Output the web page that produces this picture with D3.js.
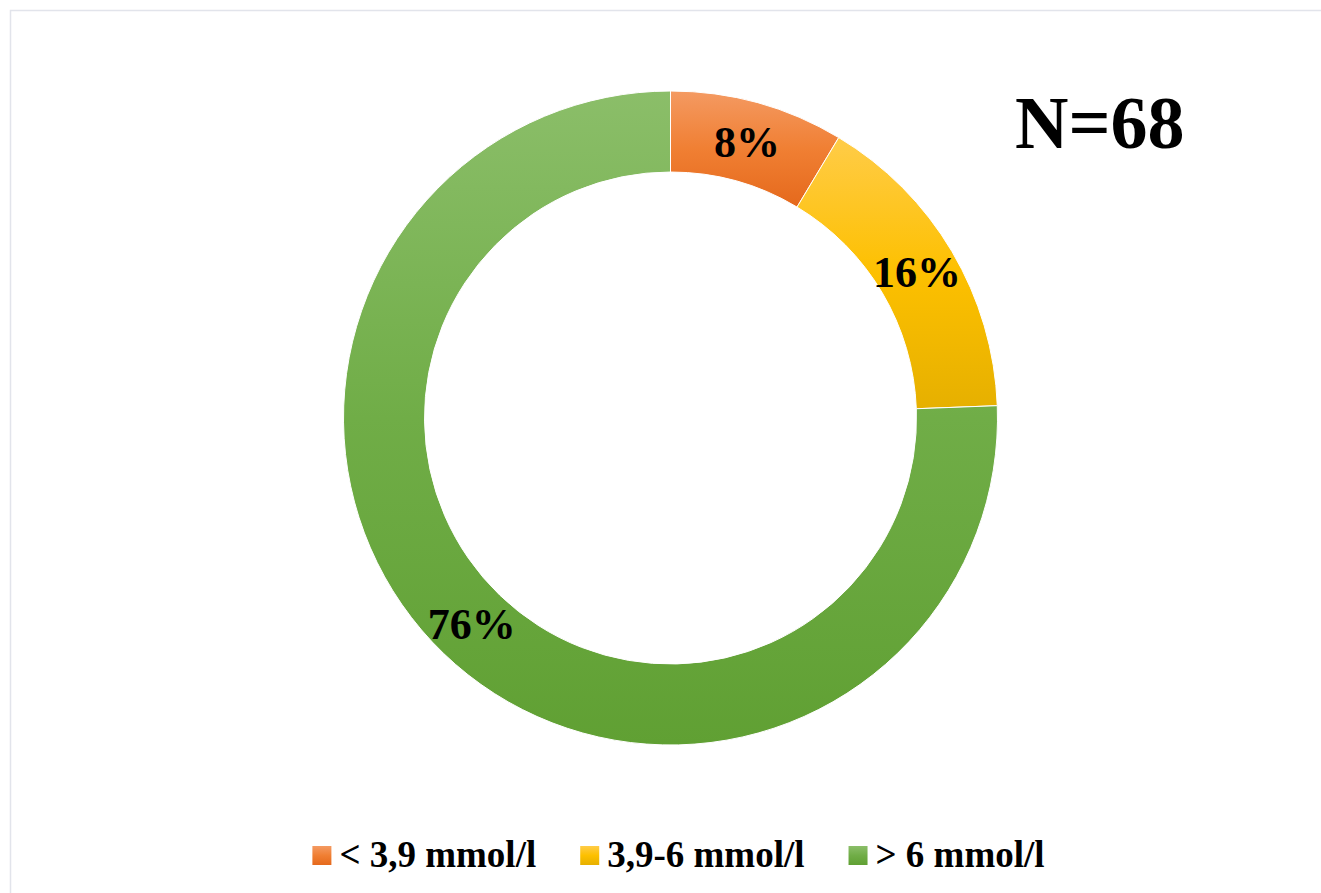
<!DOCTYPE html>
<html>
<head>
<meta charset="utf-8">
<script src="https://cdn.jsdelivr.net/npm/d3@7/dist/d3.min.js"></script>
<style>
  html, body { margin: 0; padding: 0; background: #fff; }
  #plot { width: 1321px; height: 893px; }
  text { font-family: "Liberation Serif", "Times New Roman", serif; font-weight: bold; }
</style>
</head>
<body>
<div id="plot"></div>
<script>
// glucose categories and their shares (%)
const categories = ['< 3,9 mmol/l', '3,9-6 mmol/l', '> 6 mmol/l'];
const shares = [8.6, 15.8, 75.6];
const shareLabels = ['8%', '16%', '76%'];
const sampleLabel = 'N=68';

// top / middle / bottom gradient colours per slice
const gradients = [
  ['#f49a62', '#f07f33', '#e5691c'],
  ['#ffcc48', '#fdc000', '#e6b000'],
  ['#8bbe69', '#70ad47', '#60a033']
];

function drawDonut() {
  const W = 1321, H = 893;
  const svg = d3.select('#plot').append('svg').attr('width', W).attr('height', H);

  // chart frame (light border, top and left visible)
  svg.append('rect')
    .attr('x', 10.5).attr('y', 10.5)
    .attr('width', W).attr('height', H)
    .attr('fill', 'none')
    .attr('stroke', '#e2e4eb')
    .attr('stroke-width', 1.5);

  const defs = svg.append('defs');
  gradients.forEach((c, i) => {
    const lg = defs.append('linearGradient')
      .attr('id', 'grad' + i)
      .attr('x1', 0).attr('y1', 0).attr('x2', 0).attr('y2', 1);
    lg.append('stop').attr('offset', '0%').attr('stop-color', c[0]);
    lg.append('stop').attr('offset', '50%').attr('stop-color', c[1]);
    lg.append('stop').attr('offset', '100%').attr('stop-color', c[2]);
  });

  const cx = 670.5, cy = 418;
  const outerR = 327, innerR = 246;

  const pie = d3.pie().sort(null).value((d) => d);
  const arc = d3.arc().innerRadius(innerR).outerRadius(outerR);
  const arcs = pie(shares);

  const g = svg.append('g').attr('transform', `translate(${cx},${cy})`);

  g.selectAll('path.slice')
    .data(arcs)
    .enter()
    .append('path')
    .attr('class', 'slice')
    .attr('d', arc)
    .attr('fill', (d, i) => `url(#grad${i})`)
    .attr('stroke', '#ffffff')
    .attr('stroke-width', 1);

  g.selectAll('text.pct')
    .data(arcs)
    .enter()
    .append('text')
    .attr('class', 'pct')
    .attr('transform', (d) => `translate(${arc.centroid(d)})`)
    .attr('text-anchor', 'middle')
    .attr('dy', '0.34em')
    .style('font-size', '44px')
    .style('fill', '#000')
    .text((d, i) => shareLabels[i]);

  svg.append('text')
    .attr('x', 1015)
    .attr('y', 148)
    .style('font-size', '74px')
    .style('fill', '#000')
    .text(sampleLabel);

  // legend, centred under the chart
  const legend = svg.append('g');
  const box = 19, gapBox = 8, gapItem = 44, fontSize = 37;
  let x = 0;
  categories.forEach((c, i) => {
    const item = legend.append('g').attr('transform', `translate(${x},0)`);
    item.append('rect')
      .attr('x', 0).attr('y', -21)
      .attr('width', box).attr('height', box)
      .attr('fill', `url(#grad${i})`);
    const t = item.append('text')
      .attr('x', box + gapBox)
      .attr('y', 0)
      .style('font-size', fontSize + 'px')
      .style('fill', '#000')
      .text(c);
    x += box + gapBox + t.node().getComputedTextLength() + gapItem;
  });
  const total = x - gapItem;
  legend.attr('transform', `translate(${678.5 - total / 2},867)`);
}

drawDonut();
</script>
</body>
</html>
